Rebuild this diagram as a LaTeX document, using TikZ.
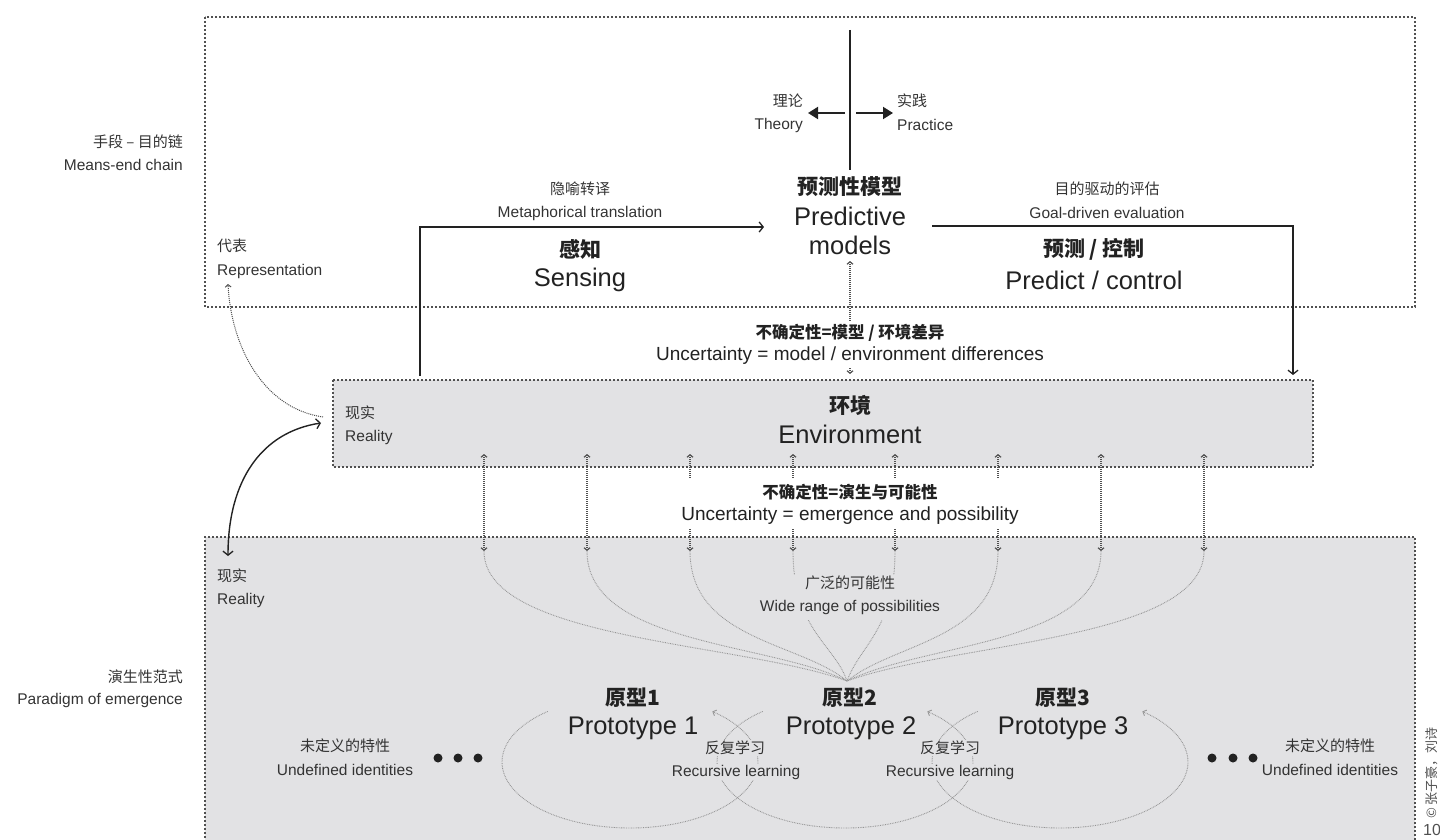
\documentclass[tikz,border=0pt]{standalone}
\usepackage{fontspec}
\setmainfont{Liberation Sans}
\newfontfamily\cjk{Noto Sans CJK SC}
\usetikzlibrary{arrows.meta}
\definecolor{bg}{HTML}{E2E2E4}
\definecolor{ink}{HTML}{222222}
\definecolor{txt}{HTML}{333333}
\definecolor{dotc}{HTML}{505050}
\definecolor{fanc}{HTML}{959595}
\begin{document}
\begin{tikzpicture}[x=1pt,y=-1pt,
  every node/.style={inner sep=1pt, text=txt},
  big/.style={font=\fontsize{25.5}{30}\selectfont, text=ink},
  bigzh/.style={font=\cjk\bfseries\fontsize{21}{25}\selectfont, text=ink},
  sm/.style={font=\fontsize{15.5}{18}\selectfont},
  smzh/.style={font=\cjk\fontsize{15}{18}\selectfont},
  med/.style={font=\fontsize{19}{22}\selectfont, text=ink},
  medzh/.style={font=\cjk\bfseries\fontsize{16.5}{20}\selectfont, text=ink},
  frame/.style={draw=dotc, line width=1.7pt, dash pattern=on 1.7pt off 2.3pt},
  fine/.style={draw=dotc, line width=1.2pt, dash pattern=on 1pt off 1pt},
  fan/.style={draw=fanc, line width=0.9pt, dash pattern=on 0.8pt off 0.9pt},
  conn/.style={draw=ink, line width=1.3pt},
  barb/.style={-{Straight Barb[length=4pt,width=10pt,line width=1.3pt]}},
  dbarb/.style={{Straight Barb[length=4pt,width=10pt,line width=1.3pt]}-{Straight Barb[length=4pt,width=10pt,line width=1.3pt]}},
  sbarb/.style={{Straight Barb[length=2.5pt,width=6pt,line width=1.2pt]}-{Straight Barb[length=2.5pt,width=6pt,line width=1.2pt]}},
  tbarb/.style={-{Straight Barb[length=2.5pt,width=6pt,line width=1pt]}},
  tri/.style={draw=ink, line width=2pt, -{Triangle[length=10pt,width=12pt]}},
  loopc/.style={fan, -{Straight Barb[length=3pt,width=6pt,line width=0.9pt]}}
]
\useasboundingbox (0,0) rectangle (1440,840);

% ---------- boxes ----------
\fill[bg] (205,537) rectangle (1415,850);
\draw[frame] (205,850) -- (205,537) -- (1415,537) -- (1415,850);
\fill[bg] (333,380) rectangle (1313,467);
\draw[frame] (333,380) rectangle (1313,467);
\draw[frame] (205,17) rectangle (1415,307);

% ---------- top: theory / practice ----------
\coordinate (vT) at (850,30);
\coordinate (vB) at (850,170);
\draw[draw=ink, line width=1.6pt] (vT) -- (vB);
\coordinate (thS) at (845,113); \coordinate (thE) at (808,113);
\coordinate (prS) at (856,113); \coordinate (prE) at (893,113);
\draw[tri] (thS) -- (thE);
\draw[tri] (prS) -- (prE);
\node[smzh, anchor=east] (thZh) at (804,101) {理论};
\node[sm, anchor=east] (thEn) at (804,125) {Theory};
\node[smzh, anchor=west] (prZh) at (896,101) {实践};
\node[sm, anchor=west] (prEn) at (896,125) {Practice};

\node[bigzh] (pmZh) at (850,187) {预测性模型};
\node[big] (pmEn1) at (850,216) {Predictive};
\node[big] (pmEn2) at (850,245) {models};

% ---------- sensing / predict ----------
\node[smzh] (mtZh) at (580,189) {隐喻转译};
\node[sm] (mtEn) at (580,213) {Metaphorical translation};
\node[bigzh] (seZh) at (580,249) {感知};
\node[big] (seEn) at (580,280) {Sensing};
\node[smzh] (geZh) at (1107,189) {目的驱动的评估};
\node[sm] (geEn) at (1107,213) {Goal-driven evaluation};
\node[bigzh] (pcZh) at (1094,249) {预测 / 控制};
\node[big] (pcEn) at (1094,280) {Predict / control};

\coordinate (sB) at (420,376);
\coordinate (sT) at (764,227);
\draw[conn, barb] (sB) |- (sT);
\coordinate (pS) at (932,226);
\coordinate (pE) at (1293,375);
\draw[conn, barb] (pS) -| (pE);

% ---------- left labels ----------
\node[smzh, anchor=east] (meZh) at (184,142) {手段 – 目的链};
\node[sm, anchor=east] (meEn) at (184,165) {Means-end chain};
\node[smzh, anchor=west] (rpZh) at (216,246) {代表};
\node[sm, anchor=west] (rpEn) at (216,271) {Representation};
\node[smzh, anchor=east] (paZh) at (184,677) {演生性范式};
\node[sm, anchor=east] (paEn) at (184,700) {Paradigm of emergence};

% ---------- model / environment uncertainty ----------
\coordinate (mU) at (850,261);
\coordinate (mD) at (850,374);
\draw[fine, sbarb] (mU) -- (mD);

% ---------- environment ----------
\node[bigzh] (envZh) at (850,405) {环境};
\node[big] (envEn) at (850,434) {Environment};
\node[smzh, anchor=west] (reZh1) at (344,413) {现实};
\node[sm, anchor=west] (reEn1) at (344,437) {Reality};

% ---------- reality links ----------
\coordinate (rA) at (321,423);
\coordinate (rB) at (228,556);
\draw[conn, line width=1.4pt, dbarb] (rB) .. controls (228,480) and (262,432) .. (rA);
\coordinate (rC) at (323,417);
\coordinate (rD) at (228,284);
\draw[fine, line width=1pt, tbarb] (rC) .. controls (262,408) and (231,345) .. (rD);

% ---------- fan ----------
\coordinate (conv) at (847,681);
\foreach \i/\x/\ay/\bx/\by in {1/484/640/740/642, 2/587/645/770/642, 3/690/640/800/642, 4/793/630/835/645,
                              5/895/630/860/645, 6/998/640/895/642, 7/1101/645/926/642, 8/1204/640/955/642}{
  \coordinate (eu\i) at (\x,454);
  \coordinate (ed\i) at (\x,551);
  \draw[fan] (ed\i) .. controls (\x,\ay) and (\bx,\by) .. (conv);
  \draw[fine, sbarb] (eu\i) -- (ed\i);
}
\fill[white] (656,322) rectangle (1045,368);
\node[medzh] (u1Zh) at (850,333) {不确定性=模型 / 环境差异};
\node[med] (u1En) at (850,356) {Uncertainty = model / environment differences};
\fill[white] (678,478) rectangle (1022,529);
\node[medzh] (u2Zh) at (850,492) {不确定性=演生与可能性};
\node[med] (u2En) at (850,516) {Uncertainty = emergence and possibility};
\fill[bg] (756,575) rectangle (944,620);
\node[smzh] (wrZh) at (850,583) {广泛的可能性};
\node[sm] (wrEn) at (850,607) {Wide range of possibilities};

% ---------- bottom ----------
\node[smzh, anchor=west] (reZh2) at (216,576) {现实};
\node[sm, anchor=west] (reEn2) at (216,600) {Reality};

\foreach \i/\cx in {1/630, 2/845, 3/1060}{
  \coordinate (lc\i) at (\cx,762);
  \draw[loopc] ([shift={(-130:128 and 66)}]lc\i) arc[start angle=-130, end angle=-410, x radius=128, y radius=66];
}

\node[bigzh] (p1Zh) at (633,698) {原型1};
\node[big] (p1En) at (633,728) {Prototype 1};
\node[bigzh] (p2Zh) at (850,698) {原型2};
\node[big] (p2En) at (851,728) {Prototype 2};
\node[bigzh] (p3Zh) at (1063,698) {原型3};
\node[big] (p3En) at (1063,728) {Prototype 3};

\node[smzh, fill=bg] (rl1Zh) at (735,748) {反复学习};
\node[sm, fill=bg] (rl1En) at (736,772) {Recursive learning};
\node[smzh, fill=bg] (rl2Zh) at (950,748) {反复学习};
\node[sm, fill=bg] (rl2En) at (950,772) {Recursive learning};

\node[smzh] (udZh1) at (345,746) {未定义的特性};
\node[sm] (udEn1) at (345,770) {Undefined identities};
\node[smzh] (udZh2) at (1330,746) {未定义的特性};
\node[sm] (udEn2) at (1330,770) {Undefined identities};
\foreach \j/\x in {1/438, 2/458, 3/478}{ \fill[ink] (\x,758) circle (4.5) coordinate (dl\j); }
\foreach \j/\x in {1/1212, 2/1233, 3/1253}{ \fill[ink] (\x,758) circle (4.5) coordinate (dr\j); }

% ---------- copyright ----------
\node[font=\cjk\fontsize{13}{15}\selectfont, text=dotc, rotate=90] (cp) at (1432,773) {© 张子豪，刘诗};
\node[font=\fontsize{16}{18}\selectfont, text=dotc] (pg) at (1432,830) {10};
\end{tikzpicture}
\end{document}
